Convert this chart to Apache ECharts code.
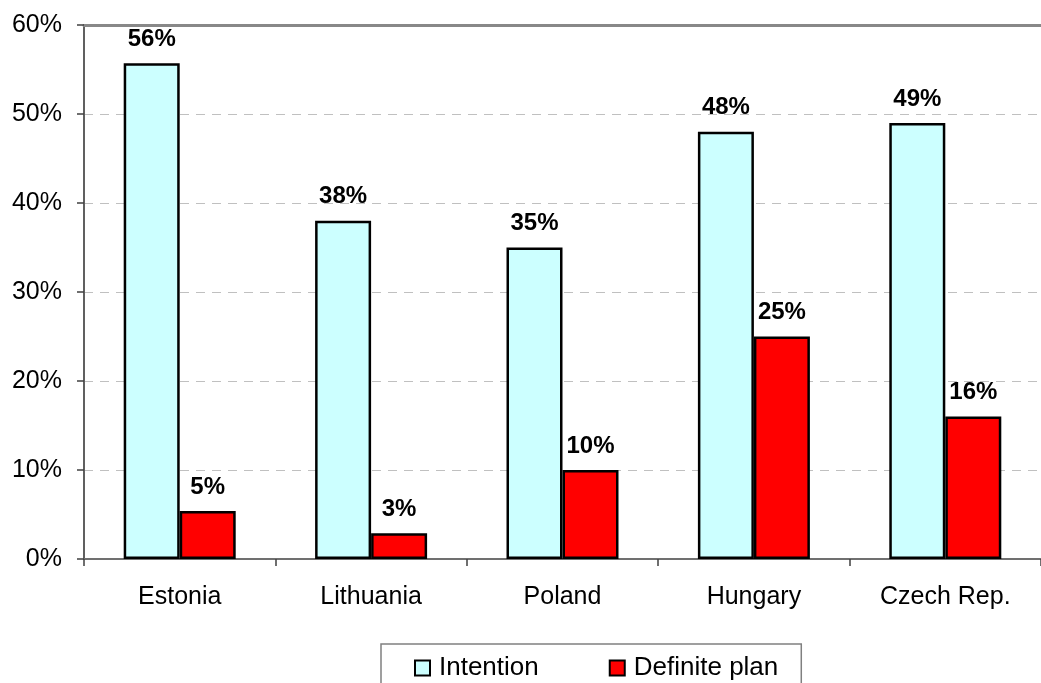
<!DOCTYPE html>
<html>
<head>
<meta charset="utf-8">
<script src="https://cdn.jsdelivr.net/npm/echarts@6/dist/echarts.min.js"></script>
<style>
  html, body { margin: 0; padding: 0; background: #fff; }
  #main { width: 1041px; height: 683px; }
</style>
</head>
<body>
<div id="main"></div>
<script>
const countries = ["Estonia", "Lithuania", "Poland", "Hungary", "Czech Rep."];
const intention = [55.7, 38, 35, 48, 49];
const definitePlan = [5.4, 2.9, 10, 25, 16];
const yTicks = { min: 0, max: 60, interval: 10 };

const font = "'Liberation Sans', Arial, sans-serif";

const barLabel = {
  show: true,
  position: "top",
  distance: 12,
  fontFamily: font,
  fontSize: 24,
  fontWeight: "bold",
  color: "#000",
  formatter: p => Math.round(p.value) + "%",
};

const myChart = echarts.init(document.getElementById("main"), null, { renderer: "canvas" });

myChart.setOption({
  animation: false,
  textStyle: { fontFamily: font },
  grid: { left: 84, top: 25, width: 966, height: 534, containLabel: false },
  legend: {
    left: 381,
    top: 644,
    padding: [11, 23, 12, 33],
    itemGap: 70,
    itemWidth: 15,
    itemHeight: 15,
    icon: "rect",
    itemStyle: { borderColor: "#000", borderWidth: 2 },
    borderColor: "#808080",
    borderWidth: 1.5,
    textStyle: { fontFamily: font, fontSize: 26, color: "#000", padding: [0, 0, 0, 4] },
    data: ["Intention", "Definite plan"],
  },
  xAxis: [
    {
      type: "category",
      data: countries,
      axisLine: { lineStyle: { color: "#707070", width: 2 } },
      axisTick: { show: true, length: 7, lineStyle: { color: "#404040", width: 1.5 } },
      axisLabel: { fontFamily: font, fontSize: 25, color: "#000", margin: 26 },
    },
    {
      type: "category",
      position: "top",
      data: countries,
      axisLine: { lineStyle: { color: "#888", width: 3 } },
      axisTick: { show: false },
      axisLabel: { show: false },
    },
  ],
  yAxis: {
    type: "value",
    min: yTicks.min,
    max: yTicks.max,
    interval: yTicks.interval,
    axisLine: { show: true, lineStyle: { color: "#606060", width: 2 } },
    axisTick: { show: true, length: 7, lineStyle: { color: "#404040", width: 1.5 } },
    axisLabel: { fontFamily: font, fontSize: 25, color: "#000", margin: 22, formatter: "{value}%" },
    splitLine: { lineStyle: { color: "#c0c0c0", type: [9, 7], width: 1 } },
  },
  series: [
    {
      name: "Intention",
      type: "bar",
      data: intention,
      barWidth: 56,
      barGap: "0%",
      itemStyle: { color: "#CCFFFF", borderColor: "#000", borderWidth: 2.5 },
      label: barLabel,
    },
    {
      name: "Definite plan",
      type: "bar",
      data: definitePlan,
      barWidth: 56,
      barGap: "0%",
      itemStyle: { color: "#FF0000", borderColor: "#000", borderWidth: 2.5 },
      label: barLabel,
    },
  ],
});
</script>
</body>
</html>
